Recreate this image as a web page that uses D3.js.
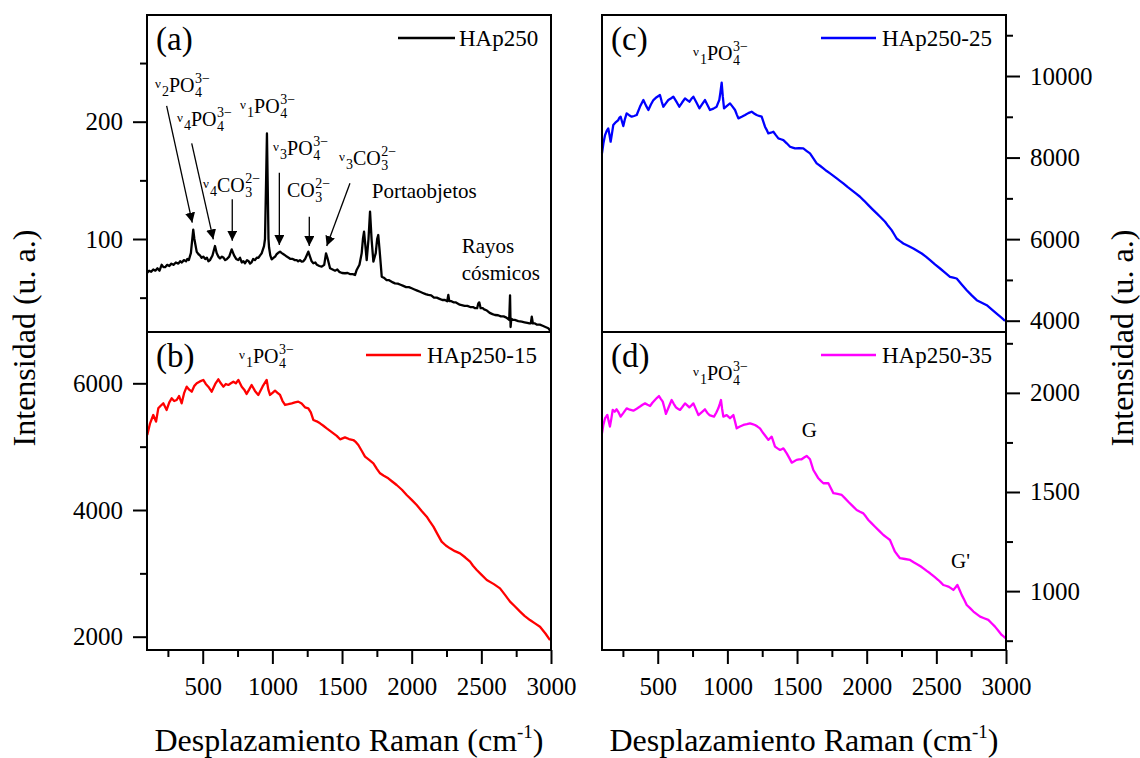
<!DOCTYPE html>
<html><head><meta charset="utf-8">
<script src="https://cdn.jsdelivr.net/npm/d3@7"></script>
<style>
html,body{margin:0;padding:0;background:#fff;}
svg, svg text{font-family:'Liberation Serif','Times New Roman',Times,serif;}
</style></head>
<body>
<svg id="chart" width="1140" height="758"></svg>
<script>
// ---------- data ----------
const xMajorTicks = [500, 1000, 1500, 2000, 2500, 3000];
const xMinorTicks = [250, 750, 1250, 1750, 2250, 2750];

const aTicks = [100, 200];
const aMinor = [50, 150, 250];
const bTicks = [2000, 4000, 6000];
const bMinor = [3000, 5000];
const cTicks = [4000, 6000, 8000, 10000];
const cMinor = [5000, 7000, 9000, 11000];
const dTicks = [1000, 1500, 2000];
const dMinor = [750, 1250, 1750, 2250];

// (a) HAp250
const aX = [100,115,130,145,160,175,190,205,218,230,245,260,275,290,307,325,338,350,365,380,390,400,415,425,432,440,457,470,480,492,504,518,530,541,552,570,588,600,612,624,638,650,661,672,690,708,725,740,755,768,780,792,803,818,830,840,850,862,875,888,900,912,923,940,947,955,961,966,972,976,985,995,1008,1020,1030,1040,1055,1068,1080,1092,1103,1117,1130,1146,1162,1175,1185,1198,1210,1222,1235,1250,1258,1270,1282,1294,1308,1320,1337,1354,1372,1385,1395,1414,1432,1450,1466,1480,1500,1521,1540,1560,1577,1593,1605,1625,1641,1650,1658,1667,1677,1690,1701,1712,1725,1742,1752,1760,1770,1785,1800,1820,1835,1850,1865,1880,1900,1920,1940,1960,1980,2000,2020,2040,2060,2080,2100,2119,2140,2160,2180,2200,2220,2239,2255,2263,2270,2285,2300,2315,2330,2345,2359,2380,2400,2420,2440,2455,2470,2478,2485,2495,2510,2520,2540,2560,2580,2598,2620,2640,2660,2680,2700,2706,2710,2715,2728,2740,2765,2790,2810,2830,2845,2855,2862,2870,2885,2900,2920,2940,2960,2981,3000];
const aY = [71,73,72,74,73,75,73,78,76,76,78,77,79,78,80,79,81,80,82,81,83,82,88,100,108,100,89,87,86,84,85,83,84,81,82,86,94,88,85,83.5,85,84,82,82.8,85,91.2,86,83,82,84,80,81,79.3,82,81,79,80,83,82,84,84,86,87.8,94,100,150,190,150,100,93,86,82.7,84,85,87,88,89.2,88,87,86,85,84,83,83,82,82,81,82,80.7,81,83,87,89.2,85,81,79.3,80,78,77,76.4,78,87.8,84,75,74,73,74,72,71,70.8,71,70,70,69.3,73.6,78,87.8,100,106.2,95,82,100,123.3,100,80.7,88,100,103.4,90,67.9,67,65,65,64,63,62.2,62,61,60,59,59,58,57,56,55,54,53,52.3,52,50,50,49,48,48,47,52.3,47,47,46,46,45,44,43.7,43,43,42,42,41,41,45,46,41,41,40,39,37,36,35.2,35,34,34,33,31,52,25,32,31,31,30,29.5,29,28.5,28,28,33.8,28,28,27,27,26,25,23.9,21];

// (b) HAp250-15
const bX = [102,122,145,165,181,200,217,241,260,277,295,313,330,349,367,385,403,421,440,457,480,504,522,540,564,590,612,630,648,666,684,702,720,738,756,780,798,815,833,851,875,899,930,959,971,983,1001,1019,1037,1055,1073,1091,1115,1139,1162,1186,1210,1234,1258,1276,1294,1318,1342,1366,1390,1414,1438,1462,1486,1521,1550,1581,1600,1617,1640,1665,1695,1725,1750,1773,1800,1832,1860,1892,1930,1964,2000,2036,2070,2108,2130,2156,2185,2215,2245,2275,2310,2347,2385,2419,2440,2467,2500,2539,2590,2634,2670,2706,2740,2778,2810,2849,2885,2921,2960,2993];
const bY = [5184,5368,5500,5395,5605,5650,5684,5579,5700,5763,5720,5737,5800,5684,5850,5947,5900,5868,5960,6000,6030,6053,5990,5947,5868,5990,6063,6000,5947,5990,5974,6000,6026,6000,6053,5947,5900,5832,5900,5974,5880,5816,5950,6053,5900,5816,5850,5884,5850,5816,5720,5658,5670,5684,5700,5711,5680,5621,5605,5540,5421,5400,5368,5330,5289,5250,5210,5170,5116,5147,5120,5105,5070,5026,4940,4842,4790,4737,4650,4579,4540,4500,4450,4395,4320,4237,4160,4079,3990,3895,3820,3737,3620,3500,3440,3395,3350,3316,3250,3184,3120,3053,2980,2895,2830,2763,2660,2553,2480,2395,2330,2263,2210,2158,2050,1947];

// (c) HAp250-25
const cX = [100,110,122,133,145,154,162,172,181,200,217,225,234,244,253,265,277,295,313,330,349,373,397,415,433,451,469,492,516,528,540,558,576,594,612,634,655,675,696,712,727,742,756,778,799,819,839,857,875,900,923,932,942,950,959,967,976,997,1019,1037,1055,1067,1079,1103,1127,1150,1174,1192,1210,1228,1246,1258,1270,1282,1294,1312,1330,1348,1366,1384,1402,1426,1450,1468,1486,1515,1545,1570,1593,1617,1641,1665,1689,1713,1737,1761,1785,1808,1832,1862,1892,1922,1952,1982,2012,2042,2072,2102,2132,2155,2179,2197,2215,2240,2263,2300,2335,2365,2395,2425,2455,2490,2527,2562,2598,2622,2646,2682,2718,2754,2790,2826,2862,2897,2933,2963,2993];
const cY = [8102,8350,8552,8650,8716,8550,8389,8600,8798,8870,8920,8980,9002,8880,8773,8950,9084,9040,9002,9020,9043,9250,9411,9280,9166,9300,9411,9480,9534,9380,9247,9330,9411,9450,9493,9370,9247,9350,9452,9410,9370,9440,9493,9350,9207,9310,9411,9290,9166,9200,9247,9330,9411,9600,9836,9500,9207,9270,9329,9250,9166,9060,8961,9000,9043,9090,9125,9080,9043,9020,9002,8880,8757,8680,8593,8610,8634,8550,8470,8450,8429,8350,8266,8245,8225,8230,8225,8160,8102,7980,7857,7800,7734,7670,7611,7550,7489,7430,7366,7280,7202,7120,7039,6940,6834,6730,6630,6530,6425,6320,6221,6120,6016,5950,5894,5830,5771,5710,5648,5570,5485,5380,5280,5180,5076,5055,5035,4890,4748,4620,4503,4440,4380,4280,4176,4090,3996];

// (d) HAp250-35
const dX = [100,110,122,130,138,147,157,167,177,191,205,220,234,255,277,300,325,349,373,391,409,427,445,462,480,495,509,522,536,548,559,580,600,615,631,645,660,678,696,712,727,742,756,774,792,815,839,855,871,887,904,920,935,945,954,962,971,983,995,1007,1019,1031,1043,1055,1067,1090,1115,1140,1162,1180,1198,1216,1234,1246,1258,1276,1294,1306,1318,1330,1342,1360,1378,1390,1402,1414,1426,1444,1462,1480,1497,1515,1533,1551,1569,1581,1593,1605,1617,1635,1653,1671,1689,1707,1725,1743,1761,1791,1821,1845,1868,1898,1928,1952,1976,1994,2012,2036,2060,2090,2120,2145,2167,2185,2203,2221,2239,2275,2311,2340,2371,2389,2407,2431,2455,2485,2514,2532,2550,2568,2586,2604,2622,2637,2651,2667,2682,2700,2718,2742,2766,2790,2814,2843,2873,2897,2921,2945,2969,2985,3000];
const dY = [1796,1840,1872,1880,1889,1860,1830,1870,1914,1905,1917,1900,1880,1900,1922,1915,1910,1920,1931,1940,1947,1940,1934,1950,1964,1975,1984,1970,1956,1925,1894,1930,1964,1945,1927,1920,1914,1930,1947,1937,1927,1937,1947,1918,1888,1902,1917,1900,1888,1884,1880,1900,1922,1943,1964,1920,1880,1884,1888,1880,1872,1880,1888,1855,1821,1830,1838,1842,1846,1842,1838,1830,1821,1808,1796,1780,1763,1771,1779,1754,1729,1720,1712,1716,1720,1708,1695,1672,1648,1655,1662,1664,1665,1674,1682,1674,1665,1638,1611,1590,1569,1556,1544,1544,1544,1519,1494,1490,1485,1468,1451,1430,1409,1400,1392,1376,1359,1342,1325,1304,1283,1270,1258,1228,1199,1182,1166,1162,1157,1144,1132,1124,1115,1102,1090,1073,1056,1044,1031,1027,1023,1015,1006,1018,1031,1006,981,956,930,914,897,884,871,863,855,838,821,800,779,770,762];

const seriesNames = ["HAp250", "HAp250-15", "HAp250-25", "HAp250-35"];
const seriesColors = ["#000000", "#ff0000", "#0000ff", "#ff00ff"];
const panelLetters = ["(a)", "(b)", "(c)", "(d)"];

// ---------- layout ----------
const svg = d3.select("#chart");
const FONT = "'Liberation Serif','Times New Roman',Times,serif";
const L = {x0:147, x1:551}, R = {x0:602, x1:1006};
const T = {y0:15, y1:332}, B = {y0:332, y1:650};

const xL = d3.scaleLinear().domain([100,3000]).range([L.x0, L.x1]);
const xR = d3.scaleLinear().domain([100,3000]).range([R.x0, R.x1]);
const ya = d3.scaleLinear().domain([20.72, 290.96]).range([T.y1, T.y0]);
const yb = d3.scaleLinear().domain([1790, 6810]).range([B.y1, B.y0]);
const yc = d3.scaleLinear().domain([3723, 11496]).range([T.y1, T.y0]);
const yd = d3.scaleLinear().domain([703, 2307]).range([B.y1, B.y0]);

// legend offsets from the right edge of each panel: [line start, line end, text start]
const legendOffsets = [[153,96,92],[185,130,124],[185,130,124],[185,130,124]];

const panels = [
  {x:xL, y:ya, X:aX, Y:aY, ticks:aTicks, minor:aMinor, side:"left", box:[L,T]},
  {x:xL, y:yb, X:bX, Y:bY, ticks:bTicks, minor:bMinor, side:"left", box:[L,B], bottom:true},
  {x:xR, y:yc, X:cX, Y:cY, ticks:cTicks, minor:cMinor, side:"right", box:[R,T]},
  {x:xR, y:yd, X:dX, Y:dY, ticks:dTicks, minor:dMinor, side:"right", box:[R,B], bottom:true}
];

function txt(sel, size){
  return sel.style("font-family",FONT).attr("font-size",size).attr("fill","#000");
}
function styleAxis(g){
  g.select(".domain").remove();
  g.selectAll(".tick line").attr("stroke","#000").attr("stroke-width",2);
  g.attr("font-family",null);
  txt(g.selectAll(".tick text"),25);
}

panels.forEach((p,i)=>{
  const [bx,by] = p.box;
  const pts = p.X.map((v,k)=>[v,p.Y[k]]);
  const line = d3.line().x(d=>p.x(d[0])).y(d=>p.y(d[1]));
  svg.append("path").datum(pts).attr("d",line).attr("fill","none")
    .attr("stroke",seriesColors[i]).attr("stroke-width",2.3).attr("stroke-linejoin","round");
  if(p.side==="left"){
    svg.append("g").attr("transform",`translate(${bx.x0},0)`)
      .call(d3.axisLeft(p.y).tickValues(p.ticks).tickSize(14).tickPadding(10).tickFormat(d3.format("d"))).call(styleAxis);
    svg.append("g").attr("transform",`translate(${bx.x0},0)`)
      .call(d3.axisLeft(p.y).tickValues(p.minor).tickSize(7).tickFormat("")).call(styleAxis);
  } else {
    svg.append("g").attr("transform",`translate(${bx.x1},0)`)
      .call(d3.axisRight(p.y).tickValues(p.ticks).tickSize(14).tickPadding(10).tickFormat(d3.format("d"))).call(styleAxis);
    svg.append("g").attr("transform",`translate(${bx.x1},0)`)
      .call(d3.axisRight(p.y).tickValues(p.minor).tickSize(7).tickFormat("")).call(styleAxis);
  }
  if(p.bottom){
    svg.append("g").attr("transform",`translate(0,${by.y1})`)
      .call(d3.axisBottom(p.x).tickValues(xMajorTicks).tickSize(14).tickPadding(13).tickFormat(d3.format("d"))).call(styleAxis);
    svg.append("g").attr("transform",`translate(0,${by.y1})`)
      .call(d3.axisBottom(p.x).tickValues(xMinorTicks).tickSize(7).tickFormat("")).call(styleAxis);
  }
  svg.append("rect").attr("x",bx.x0).attr("y",by.y0).attr("width",bx.x1-bx.x0).attr("height",by.y1-by.y0)
    .attr("fill","none").attr("stroke","#000").attr("stroke-width",2);
  txt(svg.append("text").attr("x",bx.x0+9).attr("y",by.y0+35).text(panelLetters[i]),33);
  const ly = by.y0 + 23;
  const lo = legendOffsets[i];
  svg.append("line").attr("x1",bx.x1-lo[0]).attr("x2",bx.x1-lo[1]).attr("y1",ly).attr("y2",ly)
    .attr("stroke",seriesColors[i]).attr("stroke-width",2.5);
  txt(svg.append("text").attr("x",bx.x1-lo[2]).attr("y",ly+8).text(seriesNames[i]),23);
});

// ---------- annotations ----------
function chem(x0, base, nu, body, sub, sup){
  let x = x0;
  if(nu){
    txt(svg.append("text").attr("x",x).attr("y",base-4).text("ν"),13);
    txt(svg.append("text").attr("x",x+7).attr("y",base+4).text(nu),14);
    x += 14;
  }
  const t = txt(svg.append("text").attr("x",x).attr("y",base).text(body),20);
  const w = t.node().getComputedTextLength();
  txt(svg.append("text").attr("x",x+w+0.5).attr("y",base+5).text(sub),14);
  txt(svg.append("text").attr("x",x+w+0.5).attr("y",base-9).text(sup),14);
}
function plain(x, y, s, size){
  txt(svg.append("text").attr("x",x).attr("y",y).text(s),size);
}
svg.append("defs").append("marker").attr("id","ah").attr("viewBox","0 0 10 10").attr("refX",10).attr("refY",5)
  .attr("markerWidth",10).attr("markerHeight",10).attr("markerUnits","userSpaceOnUse").attr("orient","auto")
  .append("path").attr("d","M0,0 L10,5 L0,10 Z").attr("fill","#000");
function arrow(x1,y1,x2,y2){
  svg.append("line").attr("x1",x1).attr("y1",y1).attr("x2",x2).attr("y2",y2)
    .attr("stroke","#000").attr("stroke-width",1.3).attr("marker-end","url(#ah)");
}

// (a)
chem(xL(157), ya(225), "2", "PO", "4", "3−");
chem(xL(315), ya(196), "4", "PO", "4", "3−");
chem(xL(768), ya(207), "1", "PO", "4", "3−");
chem(xL(502), ya(140), "4", "CO", "3", "2−");
chem(xL(1005), ya(172), "3", "PO", "4", "3−");
chem(xL(1105), ya(136), null, "CO", "3", "2−");
chem(xL(1478), ya(163), "3", "CO", "3", "2−");
plain(xL(1713), ya(134.7), "Portaobjetos", 21);
plain(xL(2359), ya(88), "Rayos", 21);
plain(xL(2359), ya(65), "cósmicos", 21);
arrow(xL(241), ya(213.4), xL(425), ya(114));
arrow(xL(421), ya(181.6), xL(576), ya(99.7));
arrow(xL(712), ya(133.8), xL(712), ya(98.5));
arrow(xL(1050), ya(156.5), xL(1050), ya(94.9));
arrow(xL(1265), ya(119), xL(1265), ya(94));
arrow(xL(1557), ya(147.5), xL(1390), ya(94));
// (b)
chem(xL(760), yb(6320), "1", "PO", "4", "3−");
// (c)
chem(xR(753), yc(10393), "1", "PO", "4", "3−");
// (d)
chem(xR(753), yd(2065), "1", "PO", "4", "3−");
plain(xR(1534), yd(1779), "G", 21);
plain(xR(2605), yd(1116), "G'", 21);

// ---------- axis titles ----------
function xTitle(cx){
  const t = txt(svg.append("text").attr("x",cx).attr("y",751).attr("text-anchor","middle"),32);
  t.append("tspan").text("Desplazamiento Raman (cm");
  t.append("tspan").text("-1").attr("font-size",19).attr("dy",-13);
  t.append("tspan").text(")").attr("dy",13);
}
xTitle((L.x0+L.x1)/2);
xTitle((R.x0+R.x1)/2);
txt(svg.append("text").attr("transform","translate(35,338) rotate(-90)").attr("text-anchor","middle").text("Intensidad (u. a.)"),32);
txt(svg.append("text").attr("transform","translate(1133,338) rotate(-90)").attr("text-anchor","middle").text("Intensidad (u. a.)"),32);
</script>
</body></html>
